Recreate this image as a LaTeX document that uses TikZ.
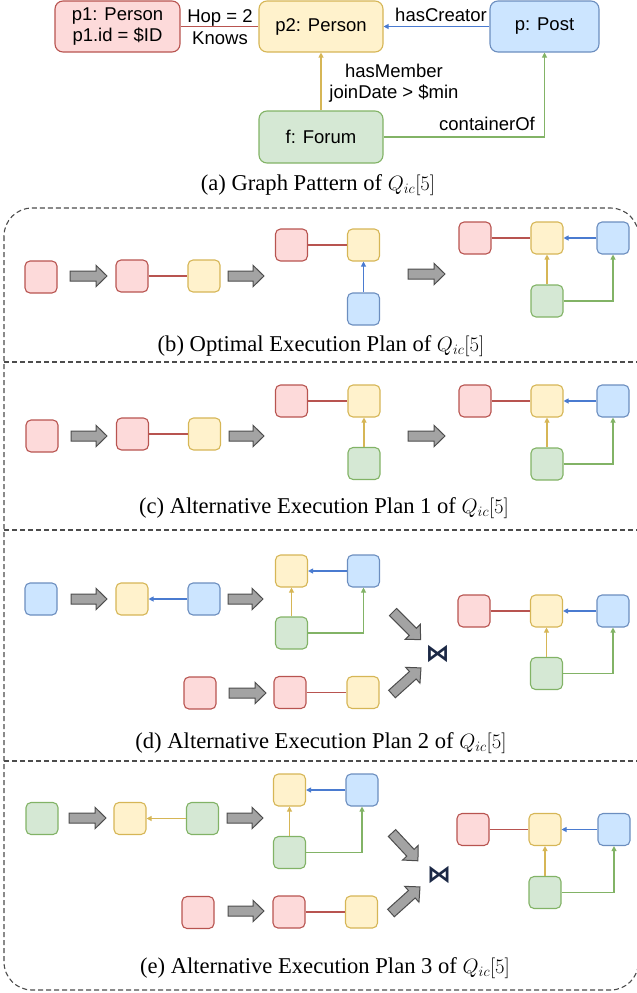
\documentclass[tikz,border=0pt]{standalone}
\usepackage{fontspec}
\setmainfont{Liberation Serif}
\newfontfamily\labfont{Liberation Sans}
\newfontfamily\symfont{DejaVu Sans}
\usetikzlibrary{arrows.meta}
\definecolor{rF}{HTML}{FDDADA}\definecolor{rS}{HTML}{B85450}
\definecolor{yF}{HTML}{FFF2CC}\definecolor{yS}{HTML}{D6B656}
\definecolor{bF}{HTML}{CCE5FF}\definecolor{bS}{HTML}{6C8EBF}
\definecolor{gF}{HTML}{D5E8D4}\definecolor{gS}{HTML}{82B366}
\definecolor{bE}{HTML}{4A7BD0}
\definecolor{arrF}{HTML}{A3A3A3}\definecolor{arrS}{HTML}{4D4D4D}
\definecolor{joinC}{HTML}{1B2845}
\tikzset{
  sb/.style={rounded corners=5pt, minimum width=32pt, minimum height=32pt, inner sep=0pt, line width=1.1pt},
  rb/.style={sb, draw=rS, fill=rF},
  yb/.style={sb, draw=yS, fill=yF},
  bb/.style={sb, draw=bS, fill=bF},
  gb/.style={sb, draw=gS, fill=gF},
  big/.style={rounded corners=8pt, line width=1.1pt, inner sep=0pt, align=center,
    font=\labfont\fontsize{18.5}{21.5}\selectfont},
  lab/.style={font=\labfont\fontsize{18.5}{21}\selectfont, inner sep=0pt, anchor=base},
  captext/.style={font=\fontsize{22.6}{25}\selectfont, inner sep=0pt},
  rl/.style={draw=rS, line width=1.1pt},
  ba/.style={draw=bE, line width=1.1pt, -{Triangle[length=5pt,width=5pt]}},
  ya/.style={draw=yS, line width=1.1pt, -{Triangle[length=5pt,width=5pt]}},
  ga/.style={draw=gS, line width=1.1pt, -{Triangle[length=5pt,width=5pt]}},
  dashline/.style={draw=black!70, line width=1.1pt, dash pattern=on 5pt off 3pt},
  joinsym/.style={inner sep=0pt, text=joinC, font=\symfont\bfseries\fontsize{24}{26}\selectfont},
  pics/garrow/.style={code={
    \draw[draw=arrS, fill=arrF, line width=1pt, line join=miter]
      (0,-5) -- (#1-11,-5) -- (#1-11,-10.7) -- (#1,0) -- (#1-11,10.7) -- (#1-11,5) -- (0,5) -- cycle;}}
}
\begin{document}
\begin{tikzpicture}[x=1pt,y=-1pt]
\useasboundingbox (0,0) rectangle (637,993);

% ---------- (a) graph pattern ----------
\node[big, draw=rS, fill=rF, minimum width=125pt, minimum height=51pt] (p1) at (117.5,26.5) {p1: Person\\p1.id = \$ID};
\node[big, draw=yS, fill=yF, minimum width=124pt, minimum height=51pt] (p2) at (321,26.5) {p2: Person};
\node[big, draw=bS, fill=bF, minimum width=109pt, minimum height=51pt] (pp) at (544.5,26.5) {p: Post};
\node[big, draw=gS, fill=gF, minimum width=124pt, minimum height=52pt] (ff) at (321,137) {f: Forum};
\draw[rl] (p1) -- (p2);
\draw[ba] (pp) -- (p2);
\draw[ya] (ff) -- (p2);
\draw[ga] (ff.east) -| (pp.south);
\node[lab] (lhop) at (220,22) {Hop = 2};
\node[lab] (lkn) at (220,44) {Knows};
\node[lab] (lhc) at (441,21) {hasCreator};
\node[lab] (lhm) at (394,77) {hasMember};
\node[lab] (ljd) at (394,98) {joinDate > \$min};
\node[lab] (lco) at (487,130) {containerOf};
\node[captext] (capa) at (318,185) {(a) Graph Pattern of $Q_{ic}[5]$};

% ---------- frame ----------
\draw[dashline, rounded corners=28pt] (4,208) rectangle (638.5,990);
\draw[dashline] (4,362) -- (637,362);
\draw[dashline] (4,530) -- (637,530);
\draw[dashline] (4,761) -- (637,761);

% ---------- (b) ----------
\node[rb] (bR1) at (41,277) {};
\pic at (70,276) {garrow=37};
\node[rb] (bR2) at (132,276) {};
\node[yb] (bY2) at (204,276) {};
\draw[rl] (bR2) -- (bY2);
\pic at (228,276) {garrow=36};
\node[rb] (bR3) at (291.5,245) {};
\node[yb] (bY3) at (363.5,245) {};
\node[bb] (bB3) at (363.5,309) {};
\draw[rl] (bR3) -- (bY3);
\draw[ba] (bB3) -- (bY3);
\pic at (408,274) {garrow=37};
\node[rb] (bR4) at (475,238) {};
\node[yb] (bY4) at (547,238) {};
\node[bb] (bB4) at (613,238) {};
\node[gb] (bG4) at (547,301) {};
\draw[rl] (bR4) -- (bY4);
\draw[ba] (bB4) -- (bY4);
\draw[ya] (bG4) -- (bY4);
\draw[ga] (bG4.east) -| (bB4.south);
\node[captext] (capb) at (321,346) {(b) Optimal Execution Plan of $Q_{ic}[5]$};

% ---------- (c) ----------
\node[rb] (cR1) at (42,436) {};
\pic at (71,436) {garrow=36};
\node[rb] (cR2) at (132.5,434) {};
\node[yb] (cY2) at (204.5,434) {};
\draw[rl] (cR2) -- (cY2);
\pic at (229,436) {garrow=35};
\node[rb] (cR3) at (291.5,401) {};
\node[yb] (cY3) at (364,401) {};
\node[gb] (cG3) at (364,463.5) {};
\draw[rl] (cR3) -- (cY3);
\draw[ya] (cG3) -- (cY3);
\pic at (408,436) {garrow=37};
\node[rb] (cR4) at (475,401) {};
\node[yb] (cY4) at (547,401) {};
\node[bb] (cB4) at (613,401) {};
\node[gb] (cG4) at (547,464) {};
\draw[rl] (cR4) -- (cY4);
\draw[ba] (cB4) -- (cY4);
\draw[ya] (cG4) -- (cY4);
\draw[ga] (cG4.east) -| (cB4.south);
\node[captext] (capc) at (324,508) {(c) Alternative Execution Plan 1 of $Q_{ic}[5]$};

% ---------- (d) ----------
\node[bb] (dB1) at (41,599) {};
\pic at (71,599) {garrow=36};
\node[yb] (dY2) at (132,599) {};
\node[bb] (dB2) at (204,599) {};
\draw[ba] (dB2) -- (dY2);
\pic at (228,599) {garrow=35};
\node[yb] (dY3) at (291.5,571) {};
\node[bb] (dB3) at (363.5,571) {};
\node[gb] (dG3) at (291.5,633) {};
\draw[ba] (dB3) -- (dY3);
\draw[ya] (dG3) -- (dY3);
\draw[ga] (dG3.east) -| (dB3.south);
\pic[rotate=-45] at (393,612) {garrow=39};
\node[joinsym] (dJ) at (437.5,653.5) {⋈};
\pic[rotate=42] at (392,694) {garrow=39};
\node[rb] (dR5) at (200,693) {};
\pic at (229,693) {garrow=37};
\node[rb] (dR6) at (290,692.5) {};
\node[yb] (dY6) at (363,692.5) {};
\draw[rl] (dR6) -- (dY6);
\node[rb] (dR4) at (474,611) {};
\node[yb] (dY4) at (546.5,611) {};
\node[bb] (dB4) at (613,611) {};
\node[gb] (dG4) at (546.5,673.5) {};
\draw[rl] (dR4) -- (dY4);
\draw[ba] (dB4) -- (dY4);
\draw[ya] (dG4) -- (dY4);
\draw[ga] (dG4.east) -| (dB4.south);
\node[captext] (capd) at (321,743) {(d) Alternative Execution Plan 2 of $Q_{ic}[5]$};

% ---------- (e) ----------
\node[gb] (eG1) at (42,818.5) {};
\pic at (69,818) {garrow=37};
\node[yb] (eY2) at (130,818.5) {};
\node[gb] (eG2) at (202.5,818.5) {};
\draw[ya] (eG2) -- (eY2);
\pic at (227,818) {garrow=36};
\node[yb] (eY3) at (289.5,790) {};
\node[bb] (eB3) at (362,790) {};
\node[gb] (eG3) at (289.5,852.5) {};
\draw[ba] (eB3) -- (eY3);
\draw[ya] (eG3) -- (eY3);
\draw[ga] (eG3.east) -| (eB3.south);
\pic[rotate=-47] at (392,833) {garrow=38};
\node[joinsym] (eJ) at (439,875) {⋈};
\pic[rotate=42] at (391,913) {garrow=39};
\node[rb] (eR5) at (198,912.5) {};
\pic at (228,911) {garrow=36};
\node[rb] (eR6) at (289,912) {};
\node[yb] (eY6) at (361.5,912) {};
\draw[rl] (eR6) -- (eY6);
\node[rb] (eR4) at (473,829.5) {};
\node[yb] (eY4) at (545,829.5) {};
\node[bb] (eB4) at (614,829.5) {};
\node[gb] (eG4) at (545,892.5) {};
\draw[rl] (eR4) -- (eY4);
\draw[ba] (eB4) -- (eY4);
\draw[ya] (eG4) -- (eY4);
\draw[ga] (eG4.east) -| (eB4.south);
\node[captext] (cape) at (325,968) {(e) Alternative Execution Plan 3 of $Q_{ic}[5]$};
\end{tikzpicture}
\end{document}
